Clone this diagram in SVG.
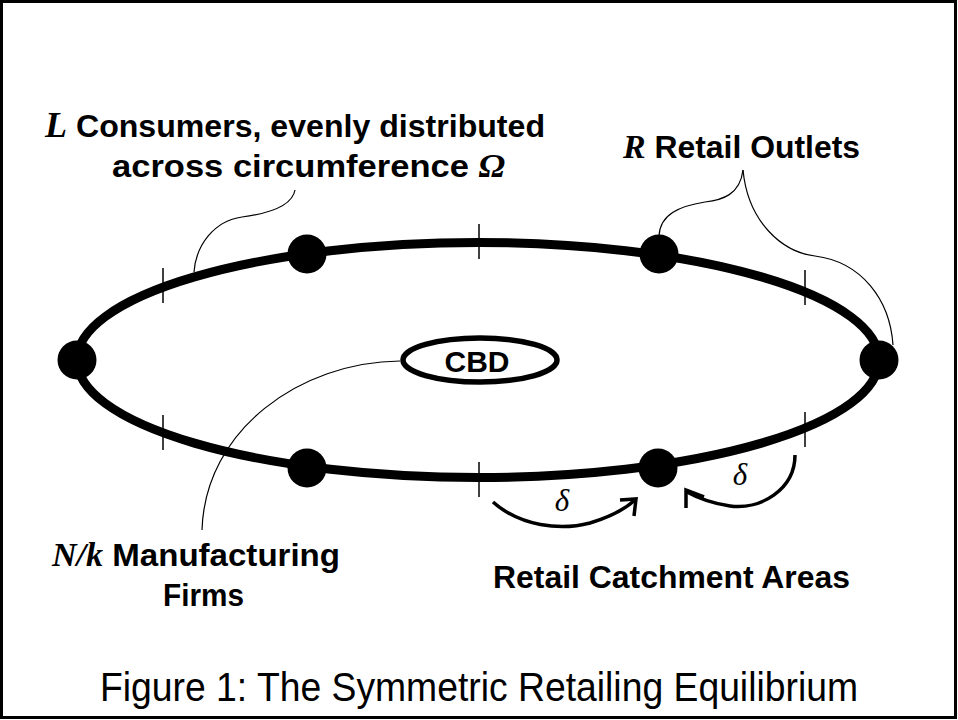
<svg xmlns="http://www.w3.org/2000/svg" width="958" height="720" viewBox="0 0 958 720">
<style>
  .lbl { font-family: "Liberation Sans", Arial, sans-serif; font-weight: bold; fill: #000; }
  .math { font-family: "Liberation Serif", "Times New Roman", serif; font-style: italic; font-weight: bold; }
  .delta { font-family: "Liberation Serif", "Times New Roman", serif; font-style: italic; font-size: 31px; fill: #000; }
  .cap { font-family: "Liberation Sans", Arial, sans-serif; font-size: 41px; fill: #000; }
  .ring { fill: none; stroke: #000; stroke-width: 9; }
  .dot { fill: #000; }
  .tick { stroke: #000; stroke-width: 1.5; }
  .leader { fill: none; stroke: #000; stroke-width: 1.2; }
  .arrow { fill: none; stroke: #000; stroke-width: 3.5; stroke-linecap: butt; stroke-linejoin: miter; }
</style>
<rect x="1.5" y="1.5" width="954" height="716" fill="#fff" stroke="#000" stroke-width="3"/>

<g id="ring">
  <ellipse class="ring" cx="478" cy="360" rx="401" ry="117.5"/>
  <line class="tick" x1="163" y1="268" x2="163" y2="303"/>
  <line class="tick" x1="479" y1="224" x2="479" y2="259"/>
  <line class="tick" x1="805" y1="270" x2="805" y2="305"/>
  <line class="tick" x1="163" y1="415" x2="163" y2="450"/>
  <line class="tick" x1="479" y1="462" x2="479" y2="497"/>
  <line class="tick" x1="805" y1="412" x2="805" y2="447"/>
</g>

<g id="outlets">
  <circle class="dot" cx="77" cy="360" r="19.5"/>
  <circle class="dot" cx="879" cy="360" r="19.5"/>
  <circle class="dot" cx="307" cy="254" r="19.5"/>
  <circle class="dot" cx="659" cy="254" r="19.5"/>
  <circle class="dot" cx="307" cy="468" r="19.5"/>
  <circle class="dot" cx="658" cy="468" r="19.5"/>
</g>

<g id="cbd">
  <ellipse cx="480" cy="360" rx="77" ry="22" fill="#fff" stroke="#000" stroke-width="5.5"/>
  <text class="lbl" x="477" y="372" font-size="30" text-anchor="middle">CBD</text>
</g>

<g id="connectors">
  <path class="leader" d="M295,190 C292,207 265,214 242,217 C214,221 196,245 194,272"/>
  <path class="leader" d="M743,170 C740,195 722,200 705,202 C680,206 660,214 659,236"/>
  <path class="leader" d="M743,170 C748,222 782,252 815,256 C862,262 890,300 893,345"/>
  <path class="leader" d="M400,361 C300,362 205,430 202,530"/>
  <path class="arrow" d="M493,502 C520,526 560,531 590,523 C610,517 625,509 635,500"/>
  <path class="arrow" d="M620,500 L636,499 L634,516"/>
  <path class="arrow" d="M795,455 C795,490 760,510 730,506 C710,503 696,497 687,492"/>
  <path class="arrow" d="M704,497 L686,490 L686,508"/>
</g>

<g id="label-consumers">
  <text class="lbl" x="45" y="137" font-size="32" textLength="500" lengthAdjust="spacingAndGlyphs"><tspan class="math" font-size="36">L</tspan> Consumers, evenly distributed</text>
  <text class="lbl" x="112" y="177" font-size="32" textLength="393" lengthAdjust="spacingAndGlyphs">across circumference <tspan class="math" font-size="33">Ω</tspan></text>
</g>

<g id="label-outlets">
  <text class="lbl" x="623" y="158" font-size="32" textLength="237" lengthAdjust="spacingAndGlyphs"><tspan class="math" font-size="34">R</tspan> Retail Outlets</text>
</g>

<g id="label-firms">
  <text class="lbl" x="52" y="566" font-size="32" textLength="288" lengthAdjust="spacingAndGlyphs"><tspan class="math" font-size="33">N/k</tspan> Manufacturing</text>
  <text class="lbl" x="163" y="606" font-size="32" textLength="81" lengthAdjust="spacingAndGlyphs">Firms</text>
</g>

<g id="label-catchment">
  <text class="lbl" x="493" y="588" font-size="32" textLength="357" lengthAdjust="spacingAndGlyphs">Retail Catchment Areas</text>
  <text class="delta" x="562" y="511" text-anchor="middle">δ</text>
  <text class="delta" x="740" y="485" text-anchor="middle">δ</text>
</g>

<g id="caption">
  <text class="cap" x="100" y="701" textLength="758" lengthAdjust="spacingAndGlyphs">Figure 1: The Symmetric Retailing Equilibrium</text>
</g>
</svg>
